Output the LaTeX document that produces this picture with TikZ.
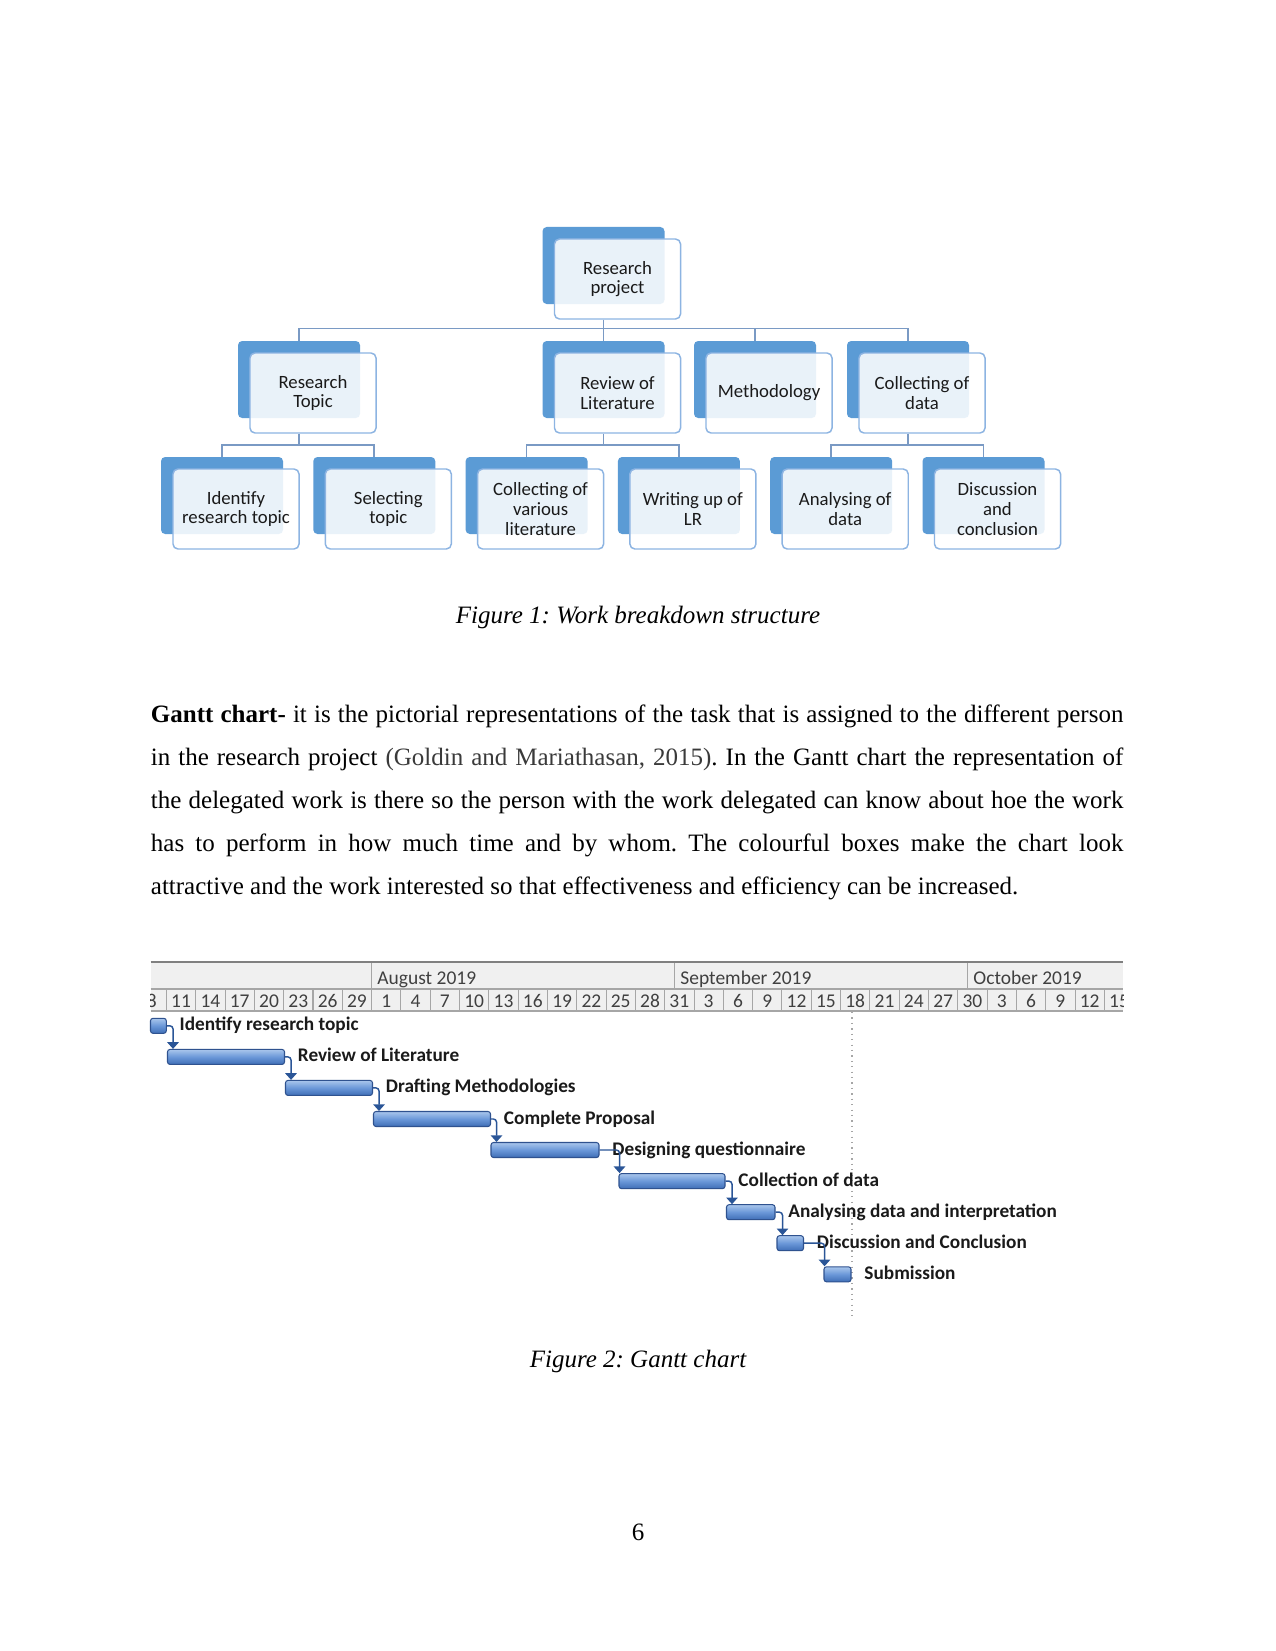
\documentclass[tikz,border=0pt]{standalone}
\usepackage{fontspec}
\setmainfont{Liberation Serif}
\newfontfamily\calfont{Carlito}
\usetikzlibrary{arrows.meta}
\definecolor{wbsblue}{HTML}{5B9BD5}
\definecolor{wbsedge}{HTML}{8DB4E2}
\definecolor{wbsconn}{HTML}{7A9AC4}
\definecolor{wbstext}{HTML}{1A1A1A}
\definecolor{hdrbg}{HTML}{F0F0F0}
\definecolor{hdrline}{HTML}{A6A6A6}
\definecolor{hdrtop}{HTML}{808080}
\definecolor{hdrtext}{HTML}{404040}
\definecolor{barlight}{HTML}{A9C6EC}
\definecolor{barmid}{HTML}{6A97D8}
\definecolor{bardark}{HTML}{3F6EB6}
\definecolor{bardraw}{HTML}{2F528F}
\definecolor{linkcol}{HTML}{2A5597}
\definecolor{tasktext}{HTML}{1A1A1A}
\definecolor{citecol}{HTML}{3A3A3A}
\frenchspacing
\newcommand\wbs[4]{%
  \node[backbox] (#1-b) at (#2+61,#3+38.5) {};
  \node[frontbox] (#1) at (#2+75,#3+52) {#4};}
\newcommand\gbar[4]{%
  \node[ganttbar, minimum width={(#3-#2)*0.48pt}] (#1) at ({(#2+#3)/2},#4+2.5) {};}
\begin{document}
\begin{tikzpicture}[x=0.48pt,y=-0.48pt,
  backbox/.style={rectangle, rounded corners=2pt, fill=wbsblue, minimum width=58.56pt, minimum height=36.96pt, inner sep=0pt},
  frontbox/.style={rectangle, rounded corners=2.4pt, fill=white, fill opacity=0.87, text opacity=1, draw=wbsedge, line width=0.7pt, minimum width=60.5pt, minimum height=38.4pt, inner sep=0pt, align=center, font=\calfont\fontsize{9}{9.5}\selectfont, text=wbstext},
  conn/.style={draw=wbsconn, line width=0.8pt},
  ganttbar/.style={rectangle, rounded corners=1.2pt, draw=bardraw, line width=0.5pt, top color=barlight, bottom color=bardark, middle color=barmid, minimum height=7.2pt, inner sep=0pt},
  link/.style={draw=linkcol, line width=0.7pt, rounded corners=1.5pt, -{Triangle[width=5.5pt,length=3.2pt]}},
  tlabel/.style={anchor=base west, inner sep=0pt, font=\calfont\bfseries\fontsize{9.25}{10}\selectfont, text=tasktext},
  hdrtxt/.style={inner sep=0pt, font=\calfont\fontsize{9.35}{10}\selectfont, text=hdrtext},
  para/.style={anchor=base west, inner sep=0pt, font=\fontsize{12}{14}\selectfont},
  capt/.style={anchor=base, inner sep=0pt, font=\itshape\fontsize{12}{14}\selectfont}]
\fill[white] (0,0) rectangle (1275,1651);
\useasboundingbox (0,0) rectangle (1275,1651);

% ---------- Work breakdown structure ----------
\wbs{rp}{542.5}{227}{Research\\project}
\wbs{rt}{238}{341}{Research\\Topic}
\wbs{rl}{542.5}{341}{Review of\\Literature}
\wbs{me}{694}{341}{Methodology}
\wbs{cd}{847}{341}{Collecting of\\data}
\wbs{ir}{161}{457}{Identify\\research topic}
\wbs{st}{313.3}{457}{Selecting\\topic}
\wbs{cv}{465.6}{457}{Collecting of\\various\\literature}
\wbs{wl}{617.9}{457}{Writing up of\\LR}
\wbs{ad}{770.2}{457}{Analysing of\\data}
\wbs{dc}{922.5}{457}{Discussion\\and\\conclusion}

\coordinate (h1) at (0,328.5);
\coordinate (h2) at (0,445);
\draw[conn] (rp-b.south |- rp.south) -- (rp-b.south |- h1);
\draw[conn] (rt-b.north) -- (rt-b.north |- h1) -- (cd-b.north |- h1) -- (cd-b.north);
\draw[conn] (rl-b.north) -- (rl-b.north |- h1);
\draw[conn] (me-b.north) -- (me-b.north |- h1);
\draw[conn] (rt-b.south |- rt.south) -- (rt-b.south |- h2);
\draw[conn] (ir-b.north) -- (ir-b.north |- h2) -- (st-b.north |- h2) -- (st-b.north);
\draw[conn] (rl-b.south |- rl.south) -- (rl-b.south |- h2);
\draw[conn] (cv-b.north) -- (cv-b.north |- h2) -- (wl-b.north |- h2) -- (wl-b.north);
\draw[conn] (cd-b.south |- cd.south) -- (cd-b.south |- h2);
\draw[conn] (ad-b.north) -- (ad-b.north |- h2) -- (dc-b.north |- h2) -- (dc-b.north);

\node[capt] (cap1) at (638,623) {Figure 1: Work breakdown structure};

% ---------- paragraph ----------
\node[para] (p1) at (150.5,722) {\makebox[466.8pt][s]{\textbf{Gantt chart-} it is the pictorial representations of the task that is assigned to the different person}};
\node[para] (p2) at (150.5,765.2) {\makebox[466.8pt][s]{in the research project {\color{citecol}(Goldin and Mariathasan, 2015)}. In the Gantt chart the representation of}};
\node[para] (p3) at (150.5,808.4) {\makebox[466.8pt][s]{the delegated work is there so the person with the work delegated can know about hoe the work}};
\node[para] (p4) at (150.5,851.6) {\makebox[466.8pt][s]{has to perform in how much time and by whom. The colourful boxes make the chart look}};
\node[para] (p5) at (150.5,894.8) {attractive and the work interested so that effectiveness and efficiency can be increased.};

% ---------- Gantt header ----------
\fill[hdrbg] (150.5,962) rectangle (1123,1011);
\begin{scope}
\clip (150.5,955) rectangle (1123,1013);
\foreach \k in {-21,-18,...,75}
  \draw[hdrline, line width=0.5pt] ({371.6+9.77*\k},989) -- ({371.6+9.77*\k},1011);
\foreach \k/\d in {-24/8,-21/11,-18/14,-15/17,-12/20,-9/23,-6/26,-3/29,0/1,3/4,6/7,9/10,12/13,15/16,18/19,21/22,24/25,27/28,30/31,33/3,36/6,39/9,42/12,45/15,48/18,51/21,54/24,57/27,60/30,63/3,66/6,69/9,72/12,75/15}
  \node[hdrtxt] (d\k) at ({371.6+9.77*(\k+1.5)},1001) {\d};
\end{scope}
\draw[hdrline, line width=0.5pt] (371.6,962) -- (371.6,989);
\draw[hdrline, line width=0.5pt] (674.5,962) -- (674.5,989);
\draw[hdrline, line width=0.5pt] (967.6,962) -- (967.6,989);
\draw[hdrline, line width=0.5pt] (150.5,989) -- (1123,989);
\draw[hdrline, line width=0.7pt] (150.5,1011) -- (1123,1011);
\draw[hdrtop, line width=1.2pt] (150.5,962) -- (1123,962);
\node[hdrtxt, anchor=base west] (maug) at (377,984.5) {August 2019};
\node[hdrtxt, anchor=base west] (msep) at (680,984.5) {September 2019};
\node[hdrtxt, anchor=base west] (moct) at (973,984.5) {October 2019};

\draw[gray!70, dotted, line width=0.6pt] (852,1012) -- (852,1316);

% ---------- Gantt bars ----------
\gbar{b1}{150.5}{166.3}{1023.3}
\gbar{b2}{167.5}{284.5}{1054.4}
\gbar{b3}{285.5}{372.5}{1085.4}
\gbar{b4}{373.5}{490.5}{1116.5}
\gbar{b5}{491}{599}{1147.5}
\gbar{b6}{619}{725}{1178.6}
\gbar{b7}{726.5}{775}{1209.7}
\gbar{b8}{777}{803.5}{1240.7}
\gbar{b9}{824}{851}{1271.8}

\node[tlabel] (l1) at ([shift={(12.5,5)}]b1.east) {Identify research topic};
\node[tlabel] (l2) at ([shift={(12.5,5)}]b2.east) {Review of Literature};
\node[tlabel] (l3) at ([shift={(12.5,5)}]b3.east) {Drafting Methodologies};
\node[tlabel] (l4) at ([shift={(12.5,5)}]b4.east) {Complete Proposal};
\node[tlabel] (l5) at ([shift={(12.5,5)}]b5.east) {Designing questionnaire};
\node[tlabel] (l6) at ([shift={(12.5,5)}]b6.east) {Collection of data};
\node[tlabel] (l7) at ([shift={(12.5,5)}]b7.east) {Analysing data and interpretation};
\node[tlabel] (l8) at ([shift={(12.5,5)}]b8.east) {Discussion and Conclusion};
\node[tlabel] (l9) at ([shift={(12.5,5)}]b9.east) {Submission};

\draw[link] (b1.east) -| ([xshift=2.9pt]b2.north west);
\draw[link] (b2.east) -| ([xshift=2.9pt]b3.north west);
\draw[link] (b3.east) -| ([xshift=2.9pt]b4.north west);
\draw[link] (b4.east) -| ([xshift=2.9pt]b5.north west);
\draw[link] (b5.east) -| ([xshift=0.5pt]b6.north west);
\draw[link] (b6.east) -| ([xshift=2.9pt]b7.north west);
\draw[link] (b7.east) -| ([xshift=2.9pt]b8.north west);
\draw[link] (b8.east) -| ([xshift=0.5pt]b9.north west);

\node[capt] (cap2) at (638,1367) {Figure 2: Gantt chart};
\node[anchor=base, inner sep=0pt, font=\fontsize{12}{14}\selectfont] (pg) at (638,1540) {6};
\end{tikzpicture}
\end{document}
